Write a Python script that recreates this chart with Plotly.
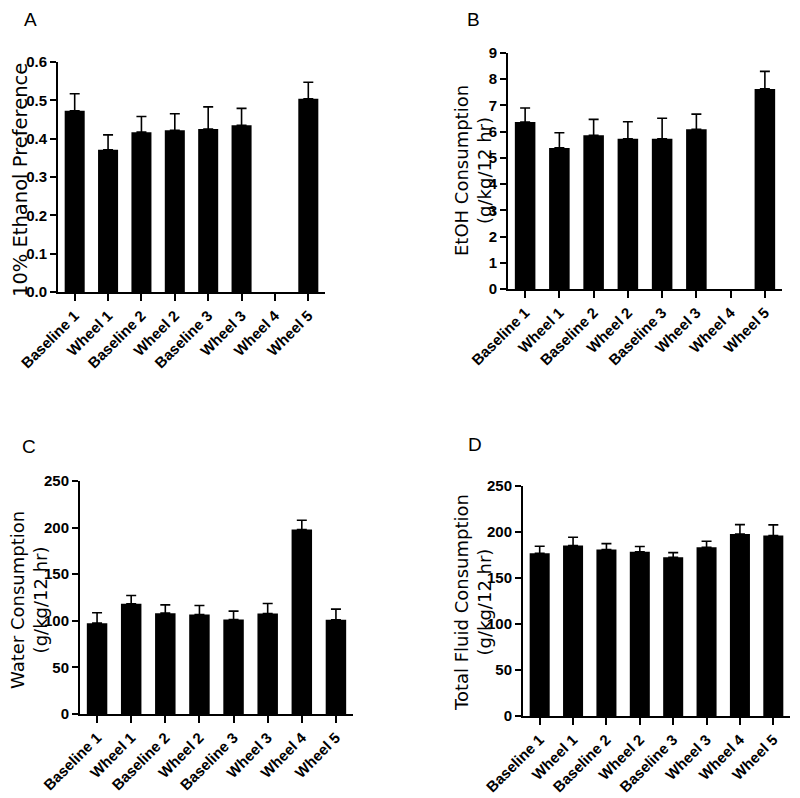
import plotly.graph_objects as go

categories = ["Baseline 1", "Wheel 1", "Baseline 2", "Wheel 2",
              "Baseline 3", "Wheel 3", "Wheel 4", "Wheel 5"]

pref_mean = [0.473, 0.371, 0.417, 0.422, 0.425, 0.435, None, 0.504]
pref_sem = [0.044, 0.039, 0.041, 0.043, 0.058, 0.044, None, 0.043]

etoh_mean = [6.37, 5.38, 5.86, 5.73, 5.73, 6.09, None, 7.63]
etoh_sem = [0.53, 0.58, 0.61, 0.65, 0.78, 0.58, None, 0.67]

water_mean = [97.5, 118.2, 108.2, 106.8, 101.4, 107.9, 197.9, 101.1]
water_sem = [11.1, 8.9, 8.9, 9.6, 9.0, 10.7, 10.0, 11.4]

total_mean = [176.9, 185.2, 180.9, 178.4, 172.6, 183.4, 197.9, 196.1]
total_sem = [7.6, 9.1, 6.5, 5.8, 5.0, 6.5, 10.1, 11.6]

panels = [
    dict(mean=pref_mean, sem=pref_sem, letter="A",
         title="10% Ethanol Preference", tsize=19.5,
         yrange=[0, 0.6], dtick=0.1, fmt=".1f",
         xdom=[58, 325], ydom=[62, 292], tx=20, ty=180, lx=30, ly=20),
    dict(mean=etoh_mean, sem=etoh_sem, letter="B",
         title="EtOH Consumption<br>(g/kg/12 hr)", tsize=18,
         yrange=[0, 9], dtick=1, fmt="d",
         xdom=[508, 782], ydom=[53, 289], tx=473, ty=171, lx=474, ly=20),
    dict(mean=water_mean, sem=water_sem, letter="C",
         title="Water Consumption<br>(g/kg/12 hr)", tsize=18,
         yrange=[0, 250], dtick=50, fmt="d",
         xdom=[80, 353], ydom=[481, 714], tx=29, ty=600, lx=29, ly=447),
    dict(mean=total_mean, sem=total_sem, letter="D",
         title="Total Fluid Consumption<br>(g/kg/12 hr)", tsize=18,
         yrange=[0, 250], dtick=50, fmt="d",
         xdom=[523, 790], ydom=[486, 716], tx=473, ty=603, lx=475, ly=445),
]

# page body has an 8px margin, so the figure is placed 8px in from the corner
OFF = 8
W, H = 800 - OFF, 798 - OFF


def px(v):
    return (v - OFF) / W


def py(v):
    return 1 - (v - OFF) / H


fig = go.Figure()
annotations = []
tickfont = dict(family="Liberation Sans, Arial, sans-serif", size=15,
                color="black", weight="bold")

for i, p in enumerate(panels):
    n = "" if i == 0 else str(i + 1)
    fig.add_trace(go.Bar(
        x=categories, y=p["mean"],
        marker=dict(color="black", line=dict(width=0)),
        error_y=dict(type="data", array=p["sem"], arrayminus=[0] * 8,
                     symmetric=False, color="black", thickness=1.6, width=5),
        xaxis="x" + n, yaxis="y" + n, showlegend=False,
    ))
    xd = [px(p["xdom"][0]), px(p["xdom"][1])]
    yd = [py(p["ydom"][1]), py(p["ydom"][0])]
    fig.layout["xaxis" + n] = dict(
        domain=xd, anchor="y" + n, type="category", range=[-0.5, 7.5],
        automargin=False,
        showline=True, linewidth=2, linecolor="black", ticks="outside",
        ticklen=7, tickwidth=2, tickcolor="black", tickangle=-45,
        showgrid=False, zeroline=False,
        tickfont=dict(family="Liberation Sans, Arial, sans-serif", size=15,
                      color="black", weight="bold"))
    fig.layout["yaxis" + n] = dict(
        domain=yd, anchor="x" + n, range=p["yrange"], dtick=p["dtick"],
        automargin=False,
        tick0=0, tickformat=p["fmt"], showline=True, linewidth=2,
        linecolor="black", ticks="outside", ticklen=6, tickwidth=2,
        tickcolor="black", showgrid=False, zeroline=False, tickfont=tickfont)
    annotations.append(dict(
        text=p["title"], textangle=-90, xref="paper", yref="paper",
        x=px(p["tx"]), y=py(p["ty"]), xanchor="center", yanchor="middle",
        showarrow=False,
        font=dict(family="DejaVu Sans, sans-serif", size=p["tsize"], color="black")))
    annotations.append(dict(
        text=p["letter"], xref="paper", yref="paper",
        x=px(p["lx"]), y=py(p["ly"]), xanchor="center", yanchor="middle",
        showarrow=False,
        font=dict(family="Liberation Sans, Arial, sans-serif", size=19, color="black")))

fig.update_layout(
    width=W, height=H, margin=dict(l=0, r=0, t=0, b=0, autoexpand=False),
    paper_bgcolor="white", plot_bgcolor="white",
    bargap=0.4, annotations=annotations,
)

fig.write_html("out.html")
